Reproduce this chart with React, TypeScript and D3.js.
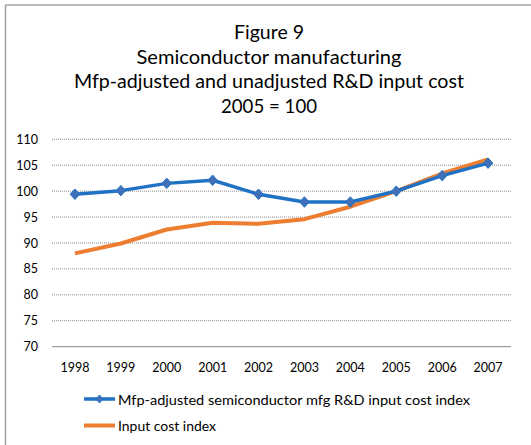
import React from "react";
import * as d3 from "d3";

const years = ["1998","1999","2000","2001","2002","2003","2004","2005","2006","2007"];
const mfpAdjusted = [99.4, 100.1, 101.5, 102.1, 99.4, 97.9, 97.9, 100.0, 103.0, 105.4];
const inputCost = [88.0, 89.9, 92.6, 93.9, 93.7, 94.6, 97.0, 100.0, 103.4, 106.1];
const yTicks = [70, 75, 80, 85, 90, 95, 100, 105, 110];
const titleLines = ["Figure 9", "Semiconductor manufacturing", "Mfp-adjusted and unadjusted R&D input cost", "2005 = 100"];
const titleWidths = [70, 265, 390, 96];
const seriesNames = ["Mfp-adjusted semiconductor mfg R&D input cost index", "Input cost index"];

const W = 531, H = 445;
const font = "Lato, 'Open Sans', sans-serif";

function diamondPath(w: number, h: number) {
  const p = d3.path();
  p.moveTo(0, -h / 2);
  p.lineTo(w / 2, 0);
  p.lineTo(0, h / 2);
  p.lineTo(-w / 2, 0);
  p.closePath();
  return p.toString();
}

export default function App() {
  const x = d3.scaleBand().domain(years).range([52, 511]);
  const y = d3.scaleLinear().domain([70, 110]).range([346.7, 139.3]);
  const cx = (d: string) => (x(d) as number) + x.bandwidth() / 2;
  const line = d3.line<number>().x((_, i) => cx(years[i])).y(d => y(d));
  const blue = "#1F72C4";
  const markerFill = "#4170B8";
  const orange = "#ED7D31";
  const diamond = diamondPath(9.5, 10.5);
  const smallDiamond = diamondPath(7, 8);
  return (
    <svg width={W} height={H} style={{ position: "absolute", left: 0, top: 0 }}>
      <rect x={0} y={0} width={W} height={H} fill="#fff" />
      <line x1={5.5} y1={5} x2={W} y2={5} stroke="#a0a0a0" strokeWidth={1.5} />
      <line x1={5.5} y1={5} x2={5.5} y2={H} stroke="#a0a0a0" strokeWidth={1.5} />
      {titleLines.map((t, i) => (
        <text key={i} x={269} y={39 + i * 24.7} textAnchor="middle"
          textLength={titleWidths[i]} lengthAdjust="spacingAndGlyphs"
          fontFamily={font} fontSize={19} fill="#000">{t}</text>
      ))}
      {yTicks.map(t => (
        <g key={t}>
          {t !== 70 && <line x1={52} x2={511} y1={y(t)} y2={y(t)} stroke="#888" strokeWidth={1} strokeDasharray="1 1" />}
          <text x={38} y={y(t)} textAnchor="end" dominantBaseline="central" fontFamily={font} fontSize={12.5} fill="#000">{t}</text>
        </g>
      ))}
      <line x1={52} x2={511} y1={y(70)} y2={y(70)} stroke="#888" strokeWidth={1} />
      {years.map(yr => (
        <text key={yr} x={cx(yr)} y={367} textAnchor="middle" dominantBaseline="central" fontFamily={font} fontSize={12.5} fill="#000">{yr}</text>
      ))}
      <path d={line(inputCost) as string} fill="none" stroke={orange} strokeWidth={4} strokeLinejoin="round" />
      <path d={line(mfpAdjusted) as string} fill="none" stroke={blue} strokeWidth={3.5} strokeLinejoin="round" />
      {mfpAdjusted.map((v, i) => (
        <path key={i} d={diamond} transform={`translate(${cx(years[i])},${y(v)})`} fill={markerFill} stroke={blue} strokeWidth={1} />
      ))}
      <line x1={84} x2={115} y1={399} y2={399} stroke={blue} strokeWidth={3.5} />
      <path d={smallDiamond} transform="translate(99.5,399)" fill={markerFill} stroke={blue} strokeWidth={1} />
      <text x={118} y={399} dominantBaseline="central" textLength={352} lengthAdjust="spacingAndGlyphs" fontFamily={font} fontSize={14} fill="#000">{seriesNames[0]}</text>
      <line x1={84} x2={115} y1={425.5} y2={425.5} stroke={orange} strokeWidth={4} />
      <text x={118} y={425.5} dominantBaseline="central" textLength={98} lengthAdjust="spacingAndGlyphs" fontFamily={font} fontSize={14} fill="#000">{seriesNames[1]}</text>
    </svg>
  );
}
